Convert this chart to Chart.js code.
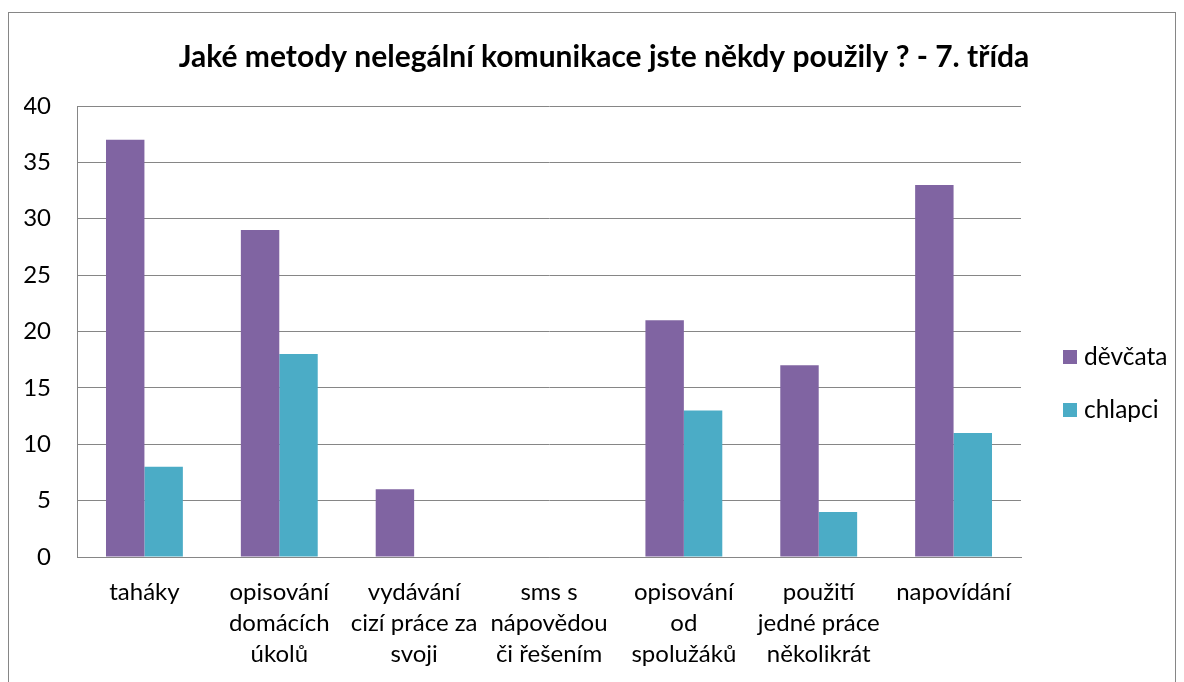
<!DOCTYPE html>
<html>
<head>
<meta charset="utf-8">
<script src="https://cdn.jsdelivr.net/npm/chart.js@4.4.1/dist/chart.umd.min.js"></script>
<style>
  html, body { margin: 0; padding: 0; background: #fff; }
  #wrap { width: 1184px; height: 682px; position: relative; }
</style>
</head>
<body>
<div id="wrap"><canvas id="chart" width="1184" height="682"></canvas></div>
<script>
const chartTitle = 'Jaké metody nelegální komunikace jste někdy použily ? - 7. třída';
const categories = [
    ['taháky'],
    ['opisování', 'domácích', 'úkolů'],
    ['vydávání', 'cizí práce za', 'svoji'],
    ['sms s', 'nápovědou', 'či řešením'],
    ['opisování', 'od', 'spolužáků'],
    ['použití', 'jedné práce', 'několikrát'],
    ['napovídání']
];
const girls = [37, 29, 6, 0, 21, 17, 33];
const boys = [8, 18, 0, 0, 13, 4, 11];
const seriesNames = ['děvčata', 'chlapci'];
const seriesColors = ['#8064A2', '#4BACC6'];
const yTicks = { min: 0, max: 40, step: 5 };

const FONT = 'Lato, "Open Sans", sans-serif';
const GRID = '#868686';

// frame around the whole chart + legend on the right
const framePlugin = {
    id: 'frame',
    beforeDraw(chart) {
        const c = chart.ctx;
        c.save();
        c.strokeStyle = GRID;
        c.lineWidth = 1;
        c.strokeRect(8.5, 12.5, 1167, 700);
        c.restore();
    },
    afterDraw(chart) {
        const c = chart.ctx;
        const area = chart.chartArea;
        c.save();
        c.font = '24.5px ' + FONT;
        c.textBaseline = 'middle';
        chart.data.datasets.forEach((ds, i) => {
            const x = area.right + 42;
            const y = area.top + 251 + i * 53;
            c.fillStyle = ds.backgroundColor;
            c.fillRect(x, y - 7, 14, 14);
            c.fillStyle = '#000';
            c.fillText(ds.label, x + 21, y);
        });
        c.restore();
    }
};

const ctx = document.getElementById('chart').getContext('2d');
new Chart(ctx, {
    type: 'bar',
    data: {
        labels: categories,
        datasets: [
            { label: seriesNames[0], data: girls, backgroundColor: seriesColors[0] },
            { label: seriesNames[1], data: boys, backgroundColor: seriesColors[1] }
        ]
    },
    options: {
        responsive: false,
        animation: false,
        layout: { padding: { top: 0, left: 24, right: 0, bottom: 0 } },
        datasets: {
            bar: { categoryPercentage: 0.57, barPercentage: 1.0 }
        },
        plugins: {
            legend: { display: false },
            tooltip: { enabled: false },
            title: {
                display: true,
                text: chartTitle,
                color: '#000',
                font: { family: FONT, size: 30, weight: 'bold', lineHeight: 1.2 },
                padding: { top: 39, bottom: 31 }
            }
        },
        scales: {
            x: {
                grid: { display: false, drawTicks: false },
                border: { display: true, color: GRID, width: 1 },
                ticks: {
                    color: '#000',
                    maxRotation: 0,
                    autoSkip: false,
                    padding: 20,
                    font: { family: FONT, size: 24, lineHeight: 1.28 }
                },
                afterFit: s => { s.height = 125; }
            },
            y: {
                min: yTicks.min,
                max: yTicks.max,
                grid: { color: GRID, lineWidth: 1, drawTicks: false },
                border: { display: true, color: GRID, width: 1 },
                ticks: {
                    stepSize: yTicks.step,
                    color: '#000',
                    padding: 26,
                    font: { family: FONT, size: 24 }
                },
                afterFit: s => { s.width = 53; }
            },
            spacer: {
                position: 'right',
                display: true,
                grid: { display: false, drawTicks: false },
                border: { display: false },
                ticks: { display: false },
                afterFit: s => { s.width = 163; }
            }
        }
    },
    plugins: [framePlugin]
});
</script>
</body>
</html>
